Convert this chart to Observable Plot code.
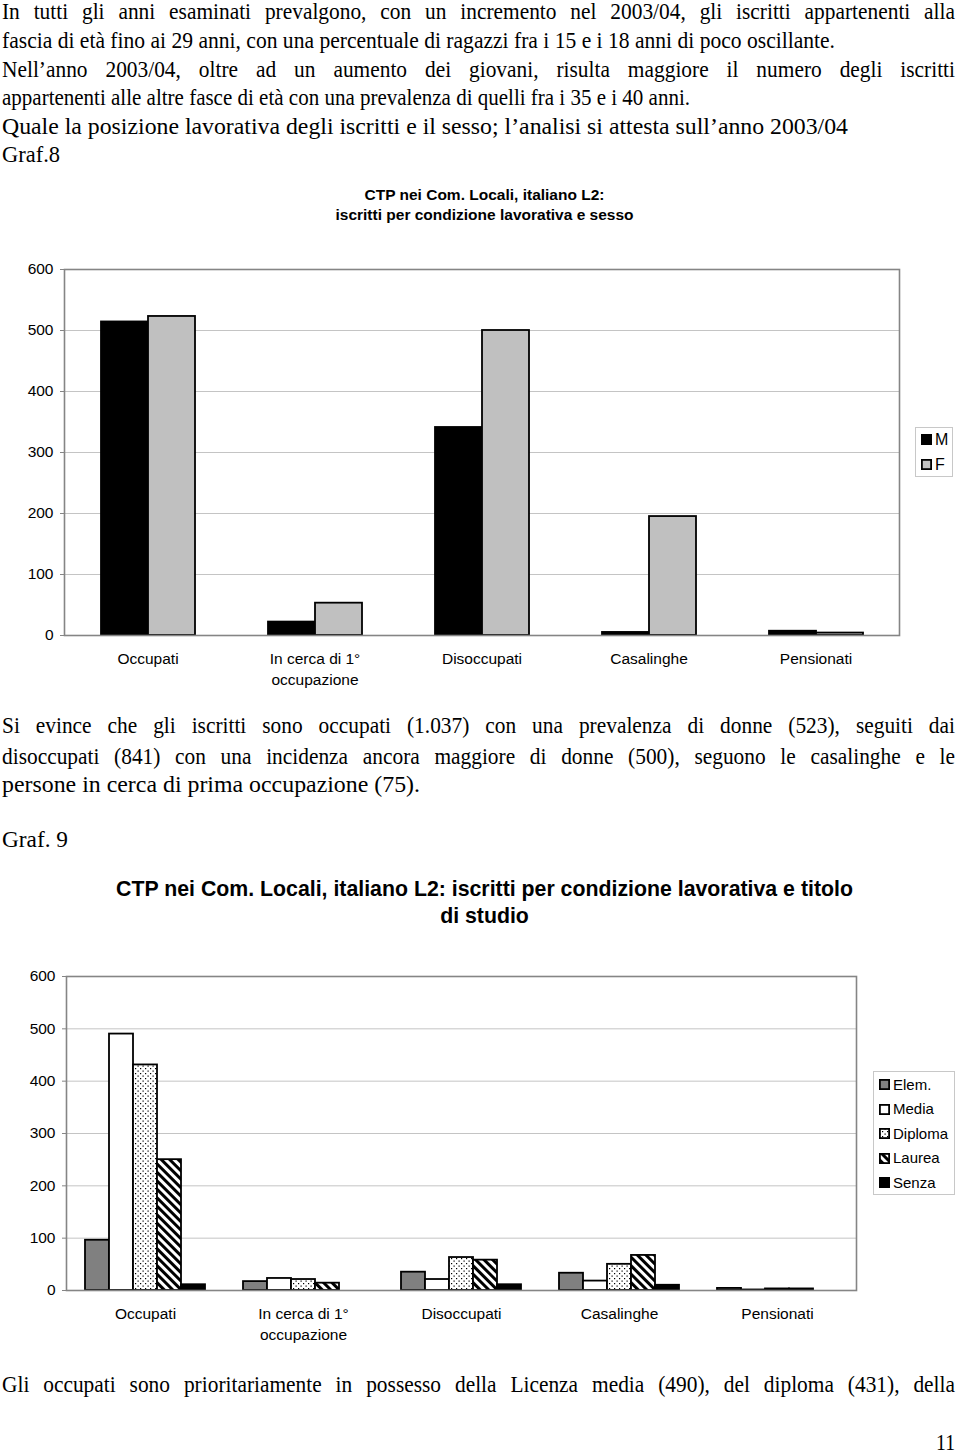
<!DOCTYPE html>
<html><head><meta charset="utf-8">
<script src="https://cdn.jsdelivr.net/npm/d3@7"></script>
<script src="https://cdn.jsdelivr.net/npm/@observablehq/plot@0.6"></script>
<style>
body{margin:0;background:#fff;width:960px;height:1454px;position:relative;overflow:hidden;}
.t{position:absolute;left:2px;font-family:"Liberation Serif","Times New Roman",serif;font-size:23px;line-height:28px;white-space:nowrap;color:#000;transform-origin:0 50%;}
.ti{position:absolute;left:0;width:969px;font-family:"Liberation Sans",Arial,sans-serif;font-weight:bold;text-align:center;color:#000}
.chart{position:absolute;left:0}
.legend{position:absolute;border:1px solid #c8c8c8;font-family:"Liberation Sans",Arial,sans-serif;background:#fff;box-sizing:border-box}
.legend svg{position:absolute}
.legend span{position:absolute;line-height:16px}
</style>
</head><body>
<svg width="0" height="0" style="position:absolute">
  <defs>
    <pattern id="dots" patternUnits="userSpaceOnUse" width="5" height="5">
      <rect width="5" height="5" fill="#fff"/>
      <rect x="0.5" y="0.5" width="1.2" height="1.2" fill="#000"/>
      <rect x="3" y="3" width="1.2" height="1.2" fill="#000"/>
    </pattern>
    <pattern id="diag" patternUnits="userSpaceOnUse" width="6" height="6" patternTransform="rotate(-45)">
      <rect width="6" height="6" fill="#fff"/>
      <rect width="3" height="6" fill="#000"/>
    </pattern>
  </defs>
</svg>

<div class="t" data-j="1" data-w="953" style="top:-2px">In tutti gli anni esaminati prevalgono, con un incremento nel 2003/04, gli iscritti appartenenti alla</div>
<div class="t" data-w="833" style="top:27px">fascia di età fino ai 29 anni, con una percentuale di ragazzi fra i 15 e i 18 anni di poco oscillante.</div>
<div class="t" data-j="1" data-w="953" style="top:56px">Nell’anno 2003/04, oltre ad un aumento dei giovani, risulta maggiore il numero degli iscritti</div>
<div class="t" data-w="688" style="top:84px">appartenenti alle altre fasce di età con una prevalenza di quelli fra i 35 e i 40 anni.</div>
<div class="t" data-w="846" style="top:113px">Quale la posizione lavorativa degli iscritti e il sesso; l’analisi si attesta sull’anno 2003/04</div>
<div class="t" data-w="58" style="top:141px">Graf.8</div>

<div class="ti" style="top:185px;font-size:15.5px;line-height:20px">CTP nei Com. Locali, italiano L2:<br>iscritti per condizione lavorativa e sesso</div>
<div id="c1" class="chart" style="top:250px"></div>
<div id="l1" class="legend" style="left:915px;top:427px;width:38px;height:50px"></div>

<div class="t" data-j="1" data-w="953" style="top:712px">Si evince che gli iscritti sono occupati (1.037) con una prevalenza di donne (523), seguiti dai</div>
<div class="t" data-j="1" data-w="953" style="top:743px">disoccupati (841) con una incidenza ancora maggiore di donne (500), seguono le casalinghe e le</div>
<div class="t" data-w="418" style="top:771px">persone in cerca di prima occupazione (75).</div>
<div class="t" data-w="66" style="top:826px">Graf. 9</div>

<div class="ti" style="top:876px;font-size:21.3px;line-height:27px">CTP nei Com. Locali, italiano L2: iscritti per condizione lavorativa e titolo<br>di studio</div>
<div id="c2" class="chart" style="top:960px"></div>
<div id="l2" class="legend" style="left:873px;top:1071px;width:82px;height:124px"></div>

<div class="t" data-j="1" data-w="953" style="top:1371px">Gli occupati sono prioritariamente in possesso della Licenza media (490), del diploma (431), della</div>
<div class="t" data-w="19" style="top:1429px;left:936px">11</div>

<script>
// ---- data ----
const categories = ["Occupati", "In cerca di 1° occupazione", "Disoccupati", "Casalinghe", "Pensionati"];
const yTicks = [0, 100, 200, 300, 400, 500, 600];

// Graf. 8: sesso
const sexSeries = ["M", "F"];
const maleValues = [514, 22, 341, 5, 7];
const femaleValues = [523, 53, 500, 195, 4];

// Graf. 9: titolo di studio
const titoli = ["Elem.", "Media", "Diploma", "Laurea", "Senza"];
const elemValues = [96, 17, 35, 33, 4];
const mediaValues = [490, 23, 21, 18, 1];
const diplomaValues = [431, 21, 63, 50, 3];
const laureaValues = [250, 14, 58, 67, 3];
const senzaValues = [11, 0, 11, 10, 0];

// ---- text line fitting (condensed serif, justified lines) ----
const condense = 0.93;
document.querySelectorAll(".t[data-w]").forEach(el => {
  const target = +el.dataset.w;
  const natural = el.getBoundingClientRect().width;
  if (el.dataset.j && natural * condense <= target) {
    el.style.whiteSpace = "normal";
    el.style.width = (target / condense) + "px";
    el.style.textAlign = "justify";
    el.style.textAlignLast = "justify";
    el.style.transform = `scaleX(${condense})`;
  } else {
    el.style.transform = `scaleX(${target / natural})`;
  }
});

// ---- tables ----
const sexData = categories.flatMap((c, i) => [
  {cat: c, serie: "M", value: maleValues[i]},
  {cat: c, serie: "F", value: femaleValues[i]}
]);
const titoloLists = [elemValues, mediaValues, diplomaValues, laureaValues, senzaValues];
const titoloData = categories.flatMap((c, i) => titoli.map((t, k) => ({cat: c, serie: t, value: titoloLists[k][i]})));

const sexFills = ["#000", "#c0c0c0"];
const titoloFills = ["#808080", "#fff", "url(#dots)", "url(#diag)", "#000"];

const fmtCat = d => d.replace("1° ", "1°\n");
const font = '"Liberation Sans", Arial, sans-serif';

function makeChart({data, series, fills, height, marginTop, marginBottom, marginRight}) {
  return Plot.plot({
    width: 960, height, marginTop, marginBottom, marginLeft: 64, marginRight,
    style: {fontFamily: font, fontSize: "15.5px", color: "#000", background: "transparent", overflow: "visible"},
    fx: {domain: categories, padding: 0, label: null},
    x: {domain: series, paddingInner: 0, paddingOuter: 0.74, axis: null},
    y: {domain: [0, 600], label: null},
    color: {domain: series, range: fills},
    marks: [
      Plot.gridY(yTicks, {stroke: "#c4c4c4", strokeOpacity: 1, strokeWidth: 1}),
      Plot.barY(data.filter(d => d.value > 0), {fx: "cat", x: "serie", y: "value", fill: "serie", stroke: "#000", strokeWidth: 1.8}),
      Plot.frame({facet: "super", stroke: "#858585", strokeWidth: 1.6}),
      Plot.axisY(yTicks, {tickSize: 4, tickPadding: 7, label: null, stroke: "#858585"}),
      Plot.axisFx({anchor: "bottom", tickSize: 0, tickPadding: 14, tickFormat: fmtCat, lineHeight: 1.35, label: null})
    ]
  });
}

document.getElementById("c1").append(makeChart({
  data: sexData, series: sexSeries, fills: sexFills,
  height: 440, marginTop: 19, marginBottom: 55, marginRight: 61
}));
document.getElementById("c2").append(makeChart({
  data: titoloData, series: titoli, fills: titoloFills,
  height: 385, marginTop: 16, marginBottom: 55, marginRight: 103
}));

function legend(el, series, fills, {top0, step, fontSize}) {
  series.forEach((s, i) => {
    const y = top0 + i * step;
    const sw = document.createElementNS("http://www.w3.org/2000/svg", "svg");
    sw.setAttribute("width", 11); sw.setAttribute("height", 11);
    sw.style.left = "5px"; sw.style.top = y + "px";
    sw.innerHTML = `<rect x="0.9" y="0.9" width="9.2" height="9.2" fill="${fills[i]}" stroke="#000" stroke-width="1.8"/>`;
    el.append(sw);
    const sp = document.createElement("span");
    sp.textContent = s;
    sp.style.left = "19px"; sp.style.top = (y - 2.5) + "px"; sp.style.fontSize = fontSize + "px";
    el.append(sp);
  });
}
legend(document.getElementById("l1"), sexSeries, sexFills, {top0: 6, step: 25, fontSize: 16});
legend(document.getElementById("l2"), titoli, titoloFills, {top0: 7, step: 24.6, fontSize: 15});
</script>
</body></html>
